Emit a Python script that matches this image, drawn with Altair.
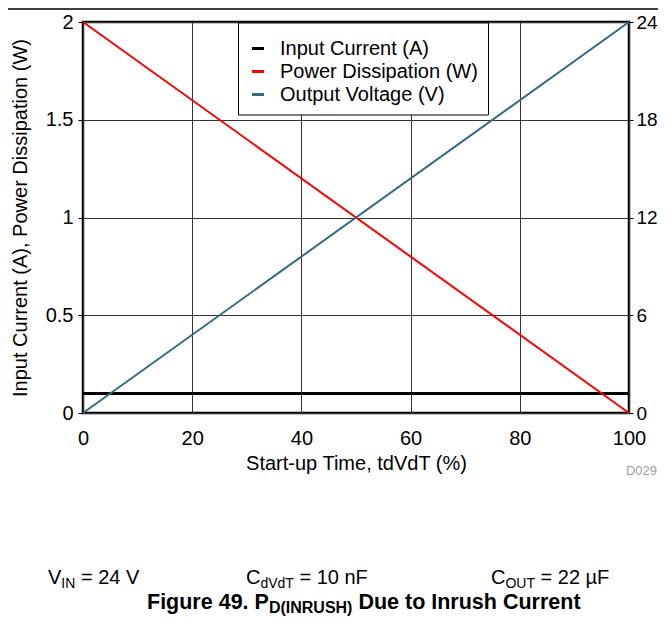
import altair as alt
import pandas as pd

# ---- data ----
time_pct = [0, 100]
input_current = [0.1, 0.1]
power_diss = [2.0, 0.0]
output_voltage = [0, 24]

series_names = ["Input Current (A)", "Power Dissipation (W)", "Output Voltage (V)"]
series_colors = ["#000000", "#FF0000", "#336A85"]

x_ticks = [0, 20, 40, 60, 80, 100]
left_ticks = [0, 0.5, 1, 1.5, 2]
right_ticks = [0, 6, 12, 18, 24]

FONT = "Liberation Sans"
W, H = 546, 391

df_cur = pd.DataFrame({"t": time_pct, "v": input_current, "s": series_names[0]})
df_pow = pd.DataFrame({"t": time_pct, "v": power_diss, "s": series_names[1]})
df_vol = pd.DataFrame({"t": time_pct, "v": output_voltage, "s": series_names[2]})

color = alt.Color(
    "s:N",
    scale=alt.Scale(domain=series_names, range=series_colors),
    legend=alt.Legend(
        title=" ", titleFontSize=6, titlePadding=0,
        orient="none", legendX=155, legendY=0.5,
        symbolType="stroke", symbolSize=144, symbolStrokeWidth=3,
        labelFontSize=20, labelFont=FONT, labelColor="black", labelLimit=400,
        labelOffset=12, rowPadding=3, padding=10,
        strokeColor="black", fillColor="white", cornerRadius=0,
    ),
)

xenc = alt.X(
    "t:Q",
    scale=alt.Scale(domain=[0, 100], nice=False),
    axis=alt.Axis(
        values=x_ticks, title="Start-up Time, tdVdT (%)", ticks=False,
        labelPadding=15, labelFlush=False, grid=True, gridColor="#333", gridWidth=1,
        domain=False, titleX=W / 2, titleY=50, titleBaseline="middle",
    ),
)

yleft = alt.Y(
    "v:Q",
    scale=alt.Scale(domain=[0, 2], nice=False),
    axis=alt.Axis(
        values=left_ticks, format="~g", title="Input Current (A), Power Dissipation (W)",
        tickSize=5, tickColor="black", labelPadding=5, labelFlush=False, grid=True,
        gridColor="#333", gridWidth=1, domain=False,
        titleX=-63, titleY=H / 2, titleAngle=-90, titleAlign="center",
        titleBaseline="middle",
    ),
)

yright = alt.Y(
    "v:Q",
    scale=alt.Scale(domain=[0, 24], nice=False),
    axis=alt.Axis(
        values=right_ticks, format="~g", title=None, orient="right", tickSize=4,
        tickColor="black", labelPadding=3, labelFlush=False, grid=False, domain=False,
        labelFontSize=19,
    ),
)

l_cur = alt.Chart(df_cur).mark_line(strokeWidth=3).encode(x=xenc, y=yleft, color=color)
l_pow = alt.Chart(df_pow).mark_line(strokeWidth=2).encode(x=xenc, y=yleft, color=color)
l_vol = alt.Chart(df_vol).mark_line(strokeWidth=2).encode(x=xenc, y=yright, color=color)

# ---- annotations (text below the chart) ----
ARIAL = {" ": .278, "=": .584, "0": .556, "1": .556, "2": .556, "4": .556, "9": .556,
         "V": .667, "I": .278, "N": .722, "C": .722, "d": .556, "T": .611, "n": .556,
         "F": .611, "O": .778, "U": .722, "µ": .576}
ARIAL_B = {" ": .278, ".": .278, "4": .556, "9": .556, "F": .611, "i": .278, "g": .611,
           "u": .611, "r": .389, "e": .556, "P": .667, "D": .722, "(": .333, ")": .333,
           "I": .278, "N": .722, "R": .722, "U": .722, "S": .667, "H": .722, "t": .333,
           "o": .611, "n": .611, "s": .556, "h": .611, "C": .722}

one = alt.Data(values=[{}])
OX, OY = 83, 22  # page position of the plot origin


def run(parts, x0, base_y, main, sub, bold=False):
    table = ARIAL_B if bold else ARIAL
    marks = []
    x = x0
    for text, is_sub in parts:
        size = sub if is_sub else main
        y = base_y + (4 if is_sub else 0)
        stripped = text.lstrip(" ")
        x += (len(text) - len(stripped)) * table[" "] * size
        marks.append(
            alt.Chart(one).mark_text(
                text=stripped, font=FONT, fontSize=size, align="left", baseline="alphabetic",
                fontWeight="bold" if bold else "normal", color="black",
            ).encode(x=alt.value(x - OX), y=alt.value(y - OY))
        )
        x += sum(table.get(c, 0.556) for c in stripped) * size
    return marks


annots = []
annots += run([("V", False), ("IN", True), (" = 24 V", False)], 48, 584, 20, 14)
annots += run([("C", False), ("dVdT", True), (" = 10 nF", False)], 246, 584, 20, 14)
annots += run([("C", False), ("OUT", True), (" = 22 µF", False)], 491, 584, 20, 14)
annots += run([("Figure 49. P", False), ("D(INRUSH)", True), (" Due to Inrush Current", False)],
              147, 609, 21.5, 16, bold=True)

d029 = alt.Chart(one).mark_text(
    text="D029", font=FONT, fontSize=13, align="right", baseline="middle", color="#a0a0a0"
).encode(x=alt.value(657 - OX), y=alt.value(471 - OY))

top_rule = alt.Chart(one).mark_rule(color="black", strokeWidth=1.5).encode(
    x=alt.value(8 - OX), x2=alt.value(664 - OX), y=alt.value(9 - OY)
)

chart = alt.layer(
    alt.layer(l_cur, l_pow),
    l_vol,
    d029,
    top_rule,
    *annots,
).resolve_scale(y="independent").properties(
    width=W, height=H,
    autosize=alt.AutoSizeParams(type="none"),
    padding={"left": 75, "top": 14, "right": 650 - 75 - W, "bottom": 213},
).configure_view(
    stroke="black", strokeWidth=2.5
).configure_axis(
    labelFont=FONT, labelFontSize=20, labelColor="black",
    titleFont=FONT, titleFontSize=20, titleColor="black", titleFontWeight="normal",
).configure_text(font=FONT)

chart.save("out.html", embed_options={"renderer": "svg", "actions": False})
